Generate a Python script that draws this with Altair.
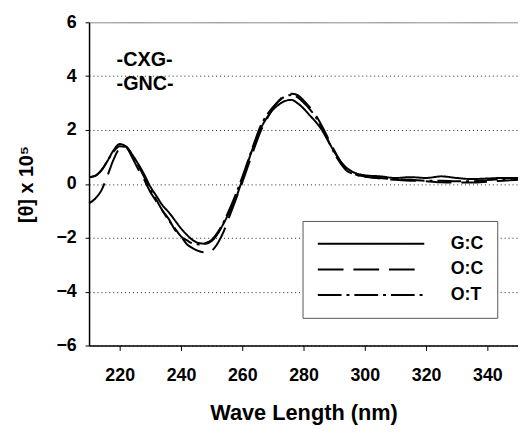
import altair as alt
import pandas as pd

wavelength = [210, 212, 214, 216, 218, 220, 222, 224, 226, 228, 230, 232, 234, 236, 238,
              240, 242, 244, 246, 248, 250, 252, 254, 256, 258, 260, 262, 264, 266, 268,
              270, 272, 274, 276, 278, 280, 282, 284, 286, 288, 290, 292, 294, 296,
              300, 305, 310, 315, 320, 325, 330, 335, 340, 345, 350]

gc = [0.25, 0.3, 0.5, 0.85, 1.25, 1.48, 1.4, 1.1, 0.75, 0.35, -0.1, -0.45, -0.8, -1.05, -1.35,
      -1.65, -1.9, -2.1, -2.2, -2.22, -2.12, -1.85, -1.45, -1.0, -0.5, 0.15, 0.85, 1.5, 2.05, 2.45,
      2.75, 2.95, 3.08, 3.12, 3.0, 2.8, 2.55, 2.3, 2.0, 1.6, 1.2, 0.85, 0.6, 0.45,
      0.32, 0.28, 0.22, 0.25, 0.22, 0.28, 0.22, 0.18, 0.2, 0.22, 0.22]

oc = [-0.72, -0.55, -0.25, 0.3, 0.9, 1.3, 1.35, 1.0, 0.55, 0.15, -0.3, -0.65, -1.0, -1.3, -1.7,
      -1.95, -2.25, -2.4, -2.5, -2.55, -2.48, -2.2, -1.75, -1.15, -0.55, 0.05, 0.7, 1.35, 1.95, 2.4,
      2.8, 3.1, 3.3, 3.35, 3.3, 3.1, 2.85, 2.55, 2.15, 1.7, 1.25, 0.85, 0.55, 0.4,
      0.27, 0.2, 0.15, 0.12, 0.1, 0.06, 0.05, 0.05, 0.08, 0.12, 0.15]

ot = [0.25, 0.3, 0.5, 0.85, 1.2, 1.4, 1.38, 1.1, 0.7, 0.25, -0.2, -0.6, -1.0, -1.35, -1.65,
      -1.95, -2.1, -2.22, -2.25, -2.2, -2.08, -1.8, -1.4, -0.9, -0.35, 0.25, 0.9, 1.55, 2.15, 2.55,
      2.85, 3.08, 3.25, 3.3, 3.22, 3.02, 2.78, 2.48, 2.08, 1.62, 1.15, 0.78, 0.5, 0.38,
      0.27, 0.22, 0.17, 0.15, 0.12, 0.12, 0.1, 0.1, 0.14, 0.18, 0.2]

series = ["G:C", "O:C", "O:T"]
dashes = [[1, 0], [26, 10], [24, 5, 3, 5]]
annotations = ["-CXG-", "-GNC-"]

rows = []
for name, vals in zip(series, [gc, oc, ot]):
    for w, v in zip(wavelength, vals):
        rows.append({"wl": w, "theta": v, "pair": name})
df = pd.DataFrame(rows)

FONT = "Liberation Sans"

y_axis = alt.Axis(
    values=[-6, -4, -2, 0, 2, 4, 6],
    grid=True,
    gridDash=alt.condition("datum.value == 6", alt.value([1, 0]), alt.value([1, 3])),
    gridColor=alt.condition("datum.value == 6", alt.value("#777777"), alt.value("#222222")),
    gridWidth=1,
    tickSize=4,
    tickColor="black",
    domainColor="black",
    domainWidth=1.5,
    labelFont=FONT,
    labelFontSize=18,
    labelFontWeight="bold",
    labelColor="black",
    labelPadding=9,
    title="[θ] x 10⁵",
    titleFont=FONT,
    titleFontSize=20,
    titleFontWeight="bold",
    titleColor="black",
    titlePadding=20,
)

x_axis = alt.Axis(
    values=[220, 240, 260, 280, 300, 320, 340],
    grid=False,
    tickSize=5,
    tickColor="black",
    domainColor="black",
    domainWidth=1.5,
    labelFont=FONT,
    labelFontSize=18,
    labelFontWeight="bold",
    labelColor="black",
    labelPadding=16,
    title="Wave Length (nm)",
    titleFont=FONT,
    titleFontSize=22,
    titleFontWeight="bold",
    titleColor="black",
    titlePadding=19,
)

legend = alt.Legend(
    title=None,
    orient="none",
    legendX=216,
    legendY=201,
    symbolType="M-1.4,0H18.6",
    symbolSize=116,
    symbolStrokeWidth=2,
    symbolStrokeColor="black",
    labelFont=FONT,
    labelFontSize=18,
    labelFontWeight="bold",
    labelColor="black",
    labelOffset=118,
    labelExpr="datum.label + ' '",
    padding=14,
    rowPadding=8,
    fillColor="white",
    strokeColor="#555555",
)

lines = alt.Chart(df).mark_line(color="black", strokeWidth=2, interpolate="monotone").encode(
    x=alt.X("wl:Q", scale=alt.Scale(domain=[210, 350], nice=False, zero=False), axis=x_axis),
    y=alt.Y("theta:Q", scale=alt.Scale(domain=[-6, 6], nice=False), axis=y_axis),
    strokeDash=alt.StrokeDash("pair:N", scale=alt.Scale(domain=series, range=dashes), legend=legend),
)

one = pd.DataFrame({"k": [0]})
label1 = alt.Chart(one).mark_text(
    text=annotations[0], align="left", baseline="middle", font=FONT, fontSize=20, fontWeight="bold", color="black"
).encode(x=alt.datum(219), y=alt.datum(4.6))
label2 = alt.Chart(one).mark_text(
    text=annotations[1], align="left", baseline="middle", font=FONT, fontSize=20, fontWeight="bold", color="black"
).encode(x=alt.datum(219), y=alt.datum(3.7))

chart = alt.layer(lines, label1, label2).properties(
    width=434,
    height=327,
    padding={"left": 82, "top": 12, "right": 0, "bottom": 80},
    autosize=alt.AutoSizeParams(type="none"),
    background="white",
).configure_view(stroke=None)

chart.save("out.html", embed_options={"renderer": "svg", "actions": False})
